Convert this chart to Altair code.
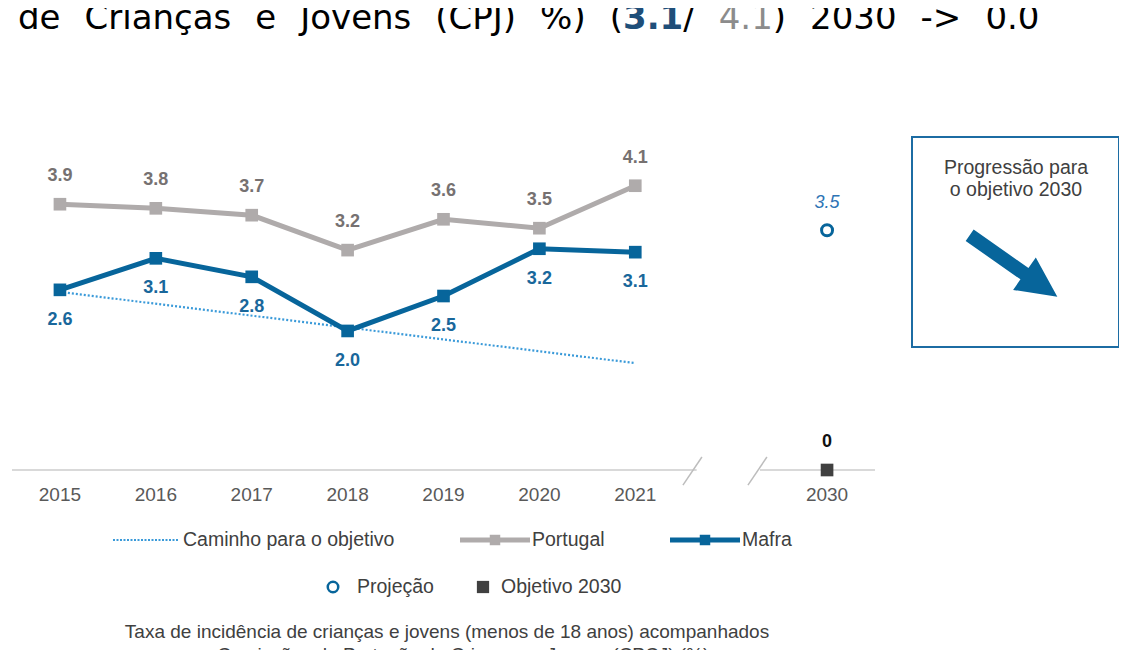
import altair as alt
import pandas as pd

# ---------------- data ----------------
years = ["2015", "2016", "2017", "2018", "2019", "2020", "2021"]
year_index = [0, 1, 2, 3, 4, 5, 6]
portugal = [3.88, 3.82, 3.72, 3.21, 3.66, 3.53, 4.15]
portugal_labels = ["3.9", "3.8", "3.7", "3.2", "3.6", "3.5", "4.1"]
mafra = [2.63, 3.09, 2.82, 2.03, 2.54, 3.23, 3.18]
mafra_labels = ["2.6", "3.1", "2.8", "2.0", "2.5", "3.2", "3.1"]
goal_index = [0, 6]
goal_values = [2.6, 1.56]
target_year = "2030"
target_index = 8
projection_value = [3.5]
projection_label = ["3.5"]
objective_value = [0]
objective_label = ["0"]
axis_start = [-0.5, 7.30]
axis_end = [6.64, 8.5]
break_x = [6.497, 7.175]
break_x2 = [6.695, 7.373]

# ---------------- style ----------------
ARIAL = "Liberation Sans"
VERD = "DejaVu Sans"
BLUE = "#07659b"
BLUE_LAB = "#19679b"
GRAY = "#afabab"
GRAY_LAB = "#767171"
DOT = "#3a9ad9"
DARK = "#404040"
W, H = 1111, 650

XS = alt.Scale(domain=[-0.5, 8.5], range=[4, 867], nice=False, zero=False)
YS = alt.Scale(domain=[0, 5], range=[462, 119.5], nice=False, zero=False)


def X(f):
    return alt.X(f, type="quantitative", scale=XS, axis=None)


def Y(f):
    return alt.Y(f, type="quantitative", scale=YS, axis=None)


one = pd.DataFrame({"a": [0]})

df_pt = pd.DataFrame({"xi": year_index, "v": portugal, "lab": portugal_labels})
df_mf = pd.DataFrame({"xi": year_index, "v": mafra, "lab": mafra_labels})
df_goal = pd.DataFrame({"xi": goal_index, "v": goal_values})
df_proj = pd.DataFrame({"xi": [target_index], "v": projection_value, "lab": projection_label})
df_obj = pd.DataFrame({"xi": [target_index], "v": objective_value, "lab": objective_label})
df_axis = pd.DataFrame({"xs": axis_start, "xe": axis_end, "v": [0, 0]})
df_brk = pd.DataFrame({"xs": break_x, "xe": break_x2, "v": [-0.22, -0.22], "v2": [0.19, 0.19]})
df_years = pd.DataFrame({"xi": year_index + [target_index], "lab": years + [target_year]})

layers = []

# axis baseline with break
layers.append(alt.Chart(df_axis).mark_rule(color="#d9d9d9", strokeWidth=2).encode(
    x=X("xs"), x2="xe", y=Y("v")))
layers.append(alt.Chart(df_brk).mark_rule(color="#bdbdbd", strokeWidth=1.5).encode(
    x=X("xs"), x2="xe", y=Y("v"), y2="v2"))

# year labels
layers.append(alt.Chart(df_years).mark_text(font=ARIAL, fontSize=19, color="#595959",
                                            baseline="middle").encode(
    x=X("xi"), y=alt.value(487), text="lab"))

# goal path
layers.append(alt.Chart(df_goal).mark_line(color=DOT, strokeWidth=2.2, strokeDash=[2, 2]).encode(
    x=X("xi"), y=Y("v")))

# Portugal
layers.append(alt.Chart(df_pt).mark_line(color=GRAY, strokeWidth=5).encode(x=X("xi"), y=Y("v")))
layers.append(alt.Chart(df_pt).mark_square(color=GRAY, size=160, opacity=1).encode(x=X("xi"), y=Y("v")))
layers.append(alt.Chart(df_pt).mark_text(font=ARIAL, fontSize=18, fontWeight="bold", color=GRAY_LAB,
                                         baseline="middle", dy=-28).encode(
    x=X("xi"), y=Y("v"), text="lab"))

# Mafra
layers.append(alt.Chart(df_mf).mark_line(color=BLUE, strokeWidth=5).encode(x=X("xi"), y=Y("v")))
layers.append(alt.Chart(df_mf).mark_square(color=BLUE, size=160, opacity=1).encode(x=X("xi"), y=Y("v")))
layers.append(alt.Chart(df_mf).mark_text(font=ARIAL, fontSize=18, fontWeight="bold", color=BLUE_LAB,
                                         baseline="middle", dy=30).encode(
    x=X("xi"), y=Y("v"), text="lab"))

# 2030 projection / objective
layers.append(alt.Chart(df_proj).mark_point(shape="circle", filled=False, size=120, strokeWidth=3,
                                            color=BLUE, opacity=1).encode(x=X("xi"), y=Y("v")))
layers.append(alt.Chart(df_proj).mark_text(font=ARIAL, fontSize=18, fontStyle="italic", color="#2e74b5",
                                           baseline="middle", dy=-27).encode(
    x=X("xi"), y=Y("v"), text="lab"))
layers.append(alt.Chart(df_obj).mark_square(color=DARK, size=160, opacity=1).encode(x=X("xi"), y=Y("v")))
layers.append(alt.Chart(df_obj).mark_text(font=ARIAL, fontSize=18, fontWeight="bold", color="#111111",
                                          baseline="middle", dy=-28).encode(
    x=X("xi"), y=Y("v"), text="lab"))

# ---------------- title (continuation line of a longer title) ----------------
title_words = [
    ("de", 10, "#000000", "normal"),
    ("Crianças", 76.5, "#000000", "normal"),
    ("e", 247.3, "#000000", "normal"),
    ("Jovens", 292.2, "#000000", "normal"),
    ("(CPJ)", 427.3, "#000000", "normal"),
    ("%)", 532.1, "#000000", "normal"),
    ("(", 601.7, "#000000", "normal"),
    ("3.1", 615, "#1f4e79", "bold"),
    ("/", 675.2, "#000000", "normal"),
    ("4.1", 710.7, "#8c8c8c", "normal"),
    (")", 764.8, "#000000", "normal"),
    ("2030", 802.1, "#000000", "normal"),
    ("->", 912.6, "#000000", "normal"),
    ("0.0", 977.4, "#000000", "normal"),
]
for txt, xp, col, fw in title_words:
    layers.append(alt.Chart(one).mark_text(text=txt, font=VERD, fontSize=34, color=col, fontWeight=fw,
                                           align="left", baseline="alphabetic").encode(
        x=alt.value(xp), y=alt.value(21)))

# ---------------- custom legend ----------------
ly1, ly2 = 532, 579
layers.append(alt.Chart(one).mark_rule(color=DOT, strokeWidth=2.2, strokeDash=[2, 1.5]).encode(
    x=alt.value(105), x2=alt.value(170), y=alt.value(ly1)))
layers.append(alt.Chart(one).mark_rule(color=GRAY, strokeWidth=5).encode(
    x=alt.value(452), x2=alt.value(522), y=alt.value(ly1)))
layers.append(alt.Chart(one).mark_square(color=GRAY, size=110, opacity=1).encode(
    x=alt.value(487), y=alt.value(ly1)))
layers.append(alt.Chart(one).mark_rule(color=BLUE, strokeWidth=5).encode(
    x=alt.value(662), x2=alt.value(732), y=alt.value(ly1)))
layers.append(alt.Chart(one).mark_square(color=BLUE, size=110, opacity=1).encode(
    x=alt.value(697), y=alt.value(ly1)))
layers.append(alt.Chart(one).mark_point(shape="circle", filled=False, size=110, strokeWidth=2.5,
                                        color=BLUE, opacity=1).encode(x=alt.value(325), y=alt.value(ly2)))
layers.append(alt.Chart(one).mark_square(color=DARK, size=150, opacity=1).encode(
    x=alt.value(475), y=alt.value(ly2)))
legend_texts = [("Caminho para o objetivo", 175, ly1), ("Portugal", 524, ly1), ("Mafra", 734, ly1),
                ("Projeção", 349, ly2), ("Objetivo 2030", 493, ly2)]
for txt, xp, yp in legend_texts:
    layers.append(alt.Chart(one).mark_text(text=txt, font=ARIAL, fontSize=19.5, color=DARK,
                                           align="left", baseline="middle").encode(
        x=alt.value(xp), y=alt.value(yp)))

# caption
for txt, yp in [("Taxa de incidência de crianças e jovens (menos de 18 anos) acompanhados", 624),
                ("por Comissões de Proteção de Crianças e Jovens (CPCJ) (%)", 647)]:
    layers.append(alt.Chart(one).mark_text(text=txt, font=ARIAL, fontSize=19, color=DARK,
                                           align="center", baseline="middle").encode(
        x=alt.value(439), y=alt.value(yp)))

# ---------------- progress box ----------------
layers.append(alt.Chart(one).mark_rect(fillOpacity=0, stroke="#1c6ca3", strokeWidth=2).encode(
    x=alt.value(904), x2=alt.value(1111), y=alt.value(129), y2=alt.value(339)))
for txt, yp in [("Progressão para", 160), ("o objetivo 2030", 182)]:
    layers.append(alt.Chart(one).mark_text(text=txt, font=ARIAL, fontSize=19.5, color=DARK,
                                           align="center", baseline="middle").encode(
        x=alt.value(1008), y=alt.value(yp)))
ARROW = "M -1 -0.13 L 0.25 -0.13 L 0.25 -0.37 L 1 0 L 0.25 0.37 L 0.25 0.13 L -1 0.13 Z"
layers.append(alt.Chart(one).mark_point(shape=ARROW, filled=True, size=11449, angle=35, color=BLUE,
                                        opacity=1, strokeWidth=0).encode(
    x=alt.value(1005.5), y=alt.value(258)))

chart = alt.layer(*layers).properties(
    width=W, height=H, autosize=alt.AutoSizeParams(type="none"),
    padding={"left": 0, "top": 0, "right": 0, "bottom": 0},
).configure_view(stroke=None)

chart.save("out.html", embed_options={"renderer": "svg", "actions": False})
